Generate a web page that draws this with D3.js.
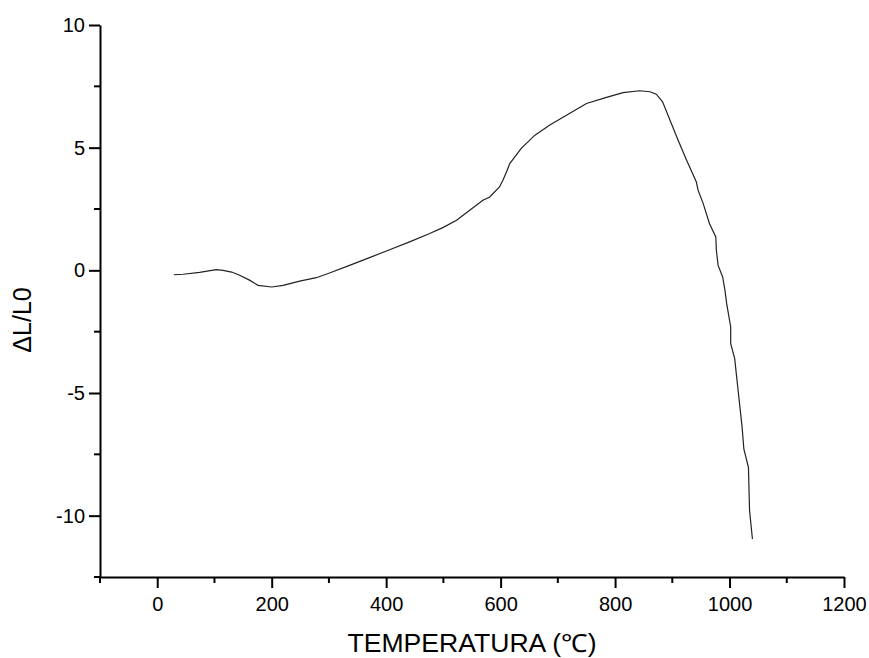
<!DOCTYPE html>
<html>
<head>
<meta charset="utf-8">
<script src="https://cdn.jsdelivr.net/npm/d3@7"></script>
<style>
  body { margin: 0; background: #fff; }
  svg { font-family: "Liberation Sans", Arial, sans-serif; }
</style>
</head>
<body>
<div id="chart"></div>
<script>
// temperature (°C) and dilatation readings
const temperature = [29, 45, 74, 103, 115, 130, 144, 162, 176, 200, 220, 249, 278, 301, 336, 371, 406, 441, 476, 499,
    523, 546, 569, 581, 598, 604, 610, 616, 636, 660, 686, 721, 750, 785, 814, 843, 861, 872, 883, 896,
    910, 925, 942, 945, 954, 965, 976, 977, 980, 988, 992, 995, 1002, 1002, 1009, 1015, 1022, 1025, 1033, 1035, 1040];
const dilatation = [-0.18, -0.16, -0.08, 0.03, 0.0, -0.07, -0.2, -0.41, -0.61, -0.68, -0.61, -0.44, -0.3, -0.11, 0.2, 0.52, 0.84, 1.16, 1.5, 1.74,
    2.04, 2.45, 2.86, 2.99, 3.4, 3.67, 4.0, 4.35, 4.97, 5.51, 5.92, 6.4, 6.8, 7.05, 7.24, 7.32, 7.28, 7.18, 6.87, 6.12,
    5.31, 4.49, 3.6, 3.27, 2.72, 1.9, 1.36, 0.82, 0.2, -0.27, -0.82, -1.36, -2.31, -2.99, -3.6, -4.9, -6.4, -7.28, -8.03, -9.8, -10.95];

const xTicks = [0, 200, 400, 600, 800, 1000, 1200];
const xMinor = [-100, 100, 300, 500, 700, 900, 1100];
const yTicks = [-10, -5, 0, 5, 10];
const yMinor = [-12.5, -7.5, -2.5, 2.5, 7.5];

const width = 869, height = 658;
const svg = d3.select("#chart").append("svg")
    .attr("width", width)
    .attr("height", height);

const x = d3.scaleLinear().domain([-100, 1200]).range([100, 844]);
const y = d3.scaleLinear().domain([-12.5, 10]).range([577, 25]);

const fmt = d => String(d); // plain hyphen minus, no thousands comma

// axes
const xAxis = svg.append("g")
    .attr("transform", `translate(0,${y(-12.5)})`)
    .call(d3.axisBottom(x).tickValues(xTicks).tickFormat(fmt).tickSize(11).tickPadding(8).tickSizeOuter(0));
xAxis.append("g").selectAll("line").data(xMinor).enter().append("line")
    .attr("x1", d => x(d)).attr("x2", d => x(d))
    .attr("y1", 0).attr("y2", 6)
    .attr("stroke", "#000").attr("stroke-width", 2);

const yAxis = svg.append("g")
    .attr("transform", `translate(${x(-100)},0)`)
    .call(d3.axisLeft(y).tickValues(yTicks).tickFormat(fmt).tickSize(11).tickPadding(4).tickSizeOuter(0));
yAxis.append("g").selectAll("line").data(yMinor).enter().append("line")
    .attr("y1", d => y(d)).attr("y2", d => y(d))
    .attr("x1", 0).attr("x2", -6)
    .attr("stroke", "#000").attr("stroke-width", 2);

svg.selectAll(".domain").attr("stroke", "#000").attr("stroke-width", 2);
svg.selectAll(".tick line").attr("stroke", "#000").attr("stroke-width", 2);
svg.selectAll(".tick text").attr("font-size", 20).attr("fill", "#000");
xAxis.selectAll(".tick text").attr("dy", "0.75em");

// curve
const line = d3.line()
    .x((d, i) => x(temperature[i]))
    .y(d => y(d));

svg.append("path")
    .datum(dilatation)
    .attr("d", line)
    .attr("fill", "none")
    .attr("stroke", "#222")
    .attr("stroke-width", 1.2);

// labels
svg.append("text")
    .attr("x", 472)
    .attr("y", 652)
    .attr("text-anchor", "middle")
    .attr("font-size", 25)
    .attr("textLength", 249)
    .attr("lengthAdjust", "spacingAndGlyphs")
    .text("TEMPERATURA (℃)");

svg.append("text")
    .attr("transform", "translate(31,320) rotate(-90)")
    .attr("text-anchor", "middle")
    .attr("font-size", 25)
    .text("ΔL/L0");
</script>
</body>
</html>
